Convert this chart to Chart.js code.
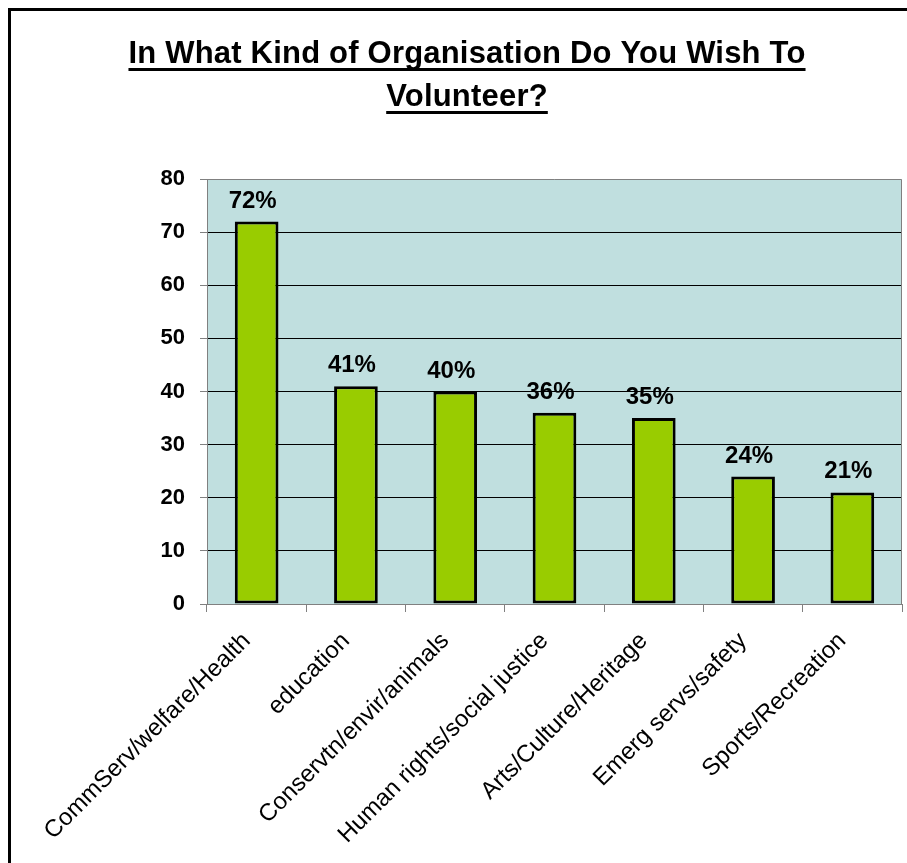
<!DOCTYPE html>
<html>
<head>
<meta charset="utf-8">
<script src="https://cdn.jsdelivr.net/npm/chart.js@4.4.1/dist/chart.umd.min.js"></script>
<style>
    html, body { margin: 0; padding: 0; background: #fff; overflow: hidden; }
    #frame {
        position: absolute; left: 8px; top: 8px;
        width: 1000px; height: 1000px;
        border: 3px solid #000;
    }
    #wrap { position: absolute; left: 0; top: 0; width: 907px; height: 863px; }
</style>
</head>
<body>
<div id="frame"></div>
<div id="wrap"><canvas id="graficoVoluntariado"></canvas></div>
<script>
const tituloLinhas = ['In What Kind of Organisation Do You Wish To', 'Volunteer?']
const categorias = [
    'CommServ/welfare/Health',
    'education',
    'Conservtn/envir/animals',
    'Human rights/social justice',
    'Arts/Culture/Heritage',
    'Emerg servs/safety',
    'Sports/Recreation'
]
const percentuais = [72, 41, 40, 36, 35, 24, 21]
const escalaY = { min: 0, max: 80, passo: 10 }

const FONTE = '"Liberation Sans", Arial, sans-serif'

// fundo da area do grafico + moldura cinza
const fundoPlot = {
    id: 'fundoPlot',
    beforeDraw(chart) {
        const a = chart.chartArea
        const ctx = chart.ctx
        ctx.save()
        ctx.fillStyle = '#c0dfdf'
        ctx.fillRect(a.left, a.top, a.right - a.left, a.bottom - a.top)
        ctx.restore()
    },
    beforeDatasetsDraw(chart) {
        const a = chart.chartArea
        const ctx = chart.ctx
        ctx.save()
        ctx.strokeStyle = '#808080'
        ctx.lineWidth = 1
        ctx.beginPath()
        ctx.moveTo(a.left, a.top + 0.5)
        ctx.lineTo(a.right - 0.5, a.top + 0.5)
        ctx.lineTo(a.right - 0.5, a.bottom)
        ctx.stroke()
        ctx.restore()
    }
}

// titulo sublinhado
const tituloSublinhado = {
    id: 'tituloSublinhado',
    afterDraw(chart) {
        const ctx = chart.ctx
        const cx = 467
        const bases = [63, 106]
        ctx.save()
        ctx.font = 'bold 31px ' + FONTE
        ctx.letterSpacing = '0.2px'
        ctx.fillStyle = '#000'
        ctx.textAlign = 'center'
        ctx.textBaseline = 'alphabetic'
        tituloLinhas.forEach(function (linha, i) {
            ctx.fillText(linha, cx, bases[i])
            const w = ctx.measureText(linha).width
            ctx.fillRect(cx - w / 2, bases[i] + 5, w, 3)
        })
        ctx.restore()
    }
}

// rotulos de porcentagem acima das barras
const rotulosBarras = {
    id: 'rotulosBarras',
    afterDatasetsDraw(chart) {
        const ctx = chart.ctx
        const meta = chart.getDatasetMeta(0)
        ctx.save()
        ctx.font = 'bold 24px ' + FONTE
        ctx.fillStyle = '#000'
        ctx.textAlign = 'center'
        ctx.textBaseline = 'alphabetic'
        meta.data.forEach(function (barra, i) {
            ctx.fillText(percentuais[i] + '%', barra.x - 4, barra.y - 14)
        })
        ctx.restore()
    }
}

const dados = {
    labels: categorias,
    datasets: [{
        label: 'Organisation',
        data: percentuais,
        backgroundColor: '#99cc00',
        borderColor: '#000',
        borderWidth: 3,
        borderSkipped: false,
        categoryPercentage: 1,
        barPercentage: 0.44
    }]
}

const config = {
    type: 'bar',
    data: dados,
    plugins: [fundoPlot, rotulosBarras, tituloSublinhado],
    options: {
        responsive: true,
        maintainAspectRatio: false,
        animation: false,
        devicePixelRatio: 1,
        layout: { padding: { top: 179, right: 5, left: 0, bottom: 0 } },
        plugins: {
            legend: { display: false },
            title: { display: false },
            tooltip: { enabled: false }
        },
        scales: {
            x: {
                afterFit(scale) { scale.height = 259 },
                border: { color: '#808080', width: 1 },
                grid: {
                    drawOnChartArea: false,
                    drawTicks: true,
                    tickLength: 8,
                    tickColor: '#808080'
                },
                ticks: {
                    minRotation: 45,
                    maxRotation: 45,
                    autoSkip: false,
                    padding: 15,
                    labelOffset: -10,
                    color: '#000',
                    font: { family: FONTE, size: 24 }
                }
            },
            y: {
                min: escalaY.min,
                max: escalaY.max,
                afterFit(scale) { scale.width = 207 },
                border: { color: '#808080', width: 1 },
                grid: {
                    color: function (c) {
                        const v = c.tick ? c.tick.value : 0
                        return (v === escalaY.min || v === escalaY.max) ? 'rgba(0,0,0,0)' : '#000'
                    },
                    tickLength: 7,
                    tickColor: '#808080'
                },
                ticks: {
                    stepSize: escalaY.passo,
                    padding: 15,
                    color: '#000',
                    font: { family: FONTE, size: 22, weight: 'bold' }
                }
            }
        }
    }
}

const ctx = document.getElementById('graficoVoluntariado').getContext('2d')
let GraficoVoluntariado = new Chart(ctx, config)
</script>
</body>
</html>
